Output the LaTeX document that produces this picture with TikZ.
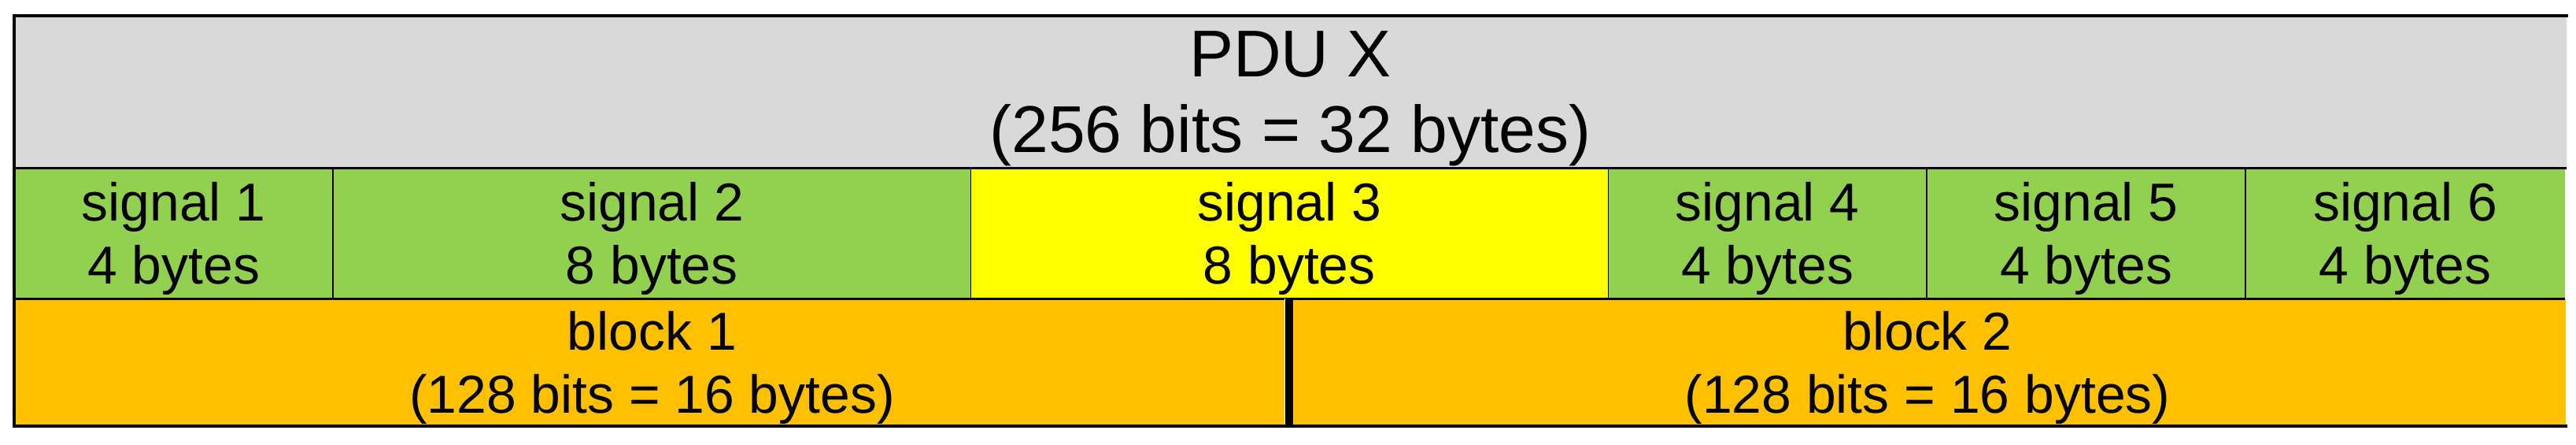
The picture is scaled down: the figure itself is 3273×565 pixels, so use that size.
\documentclass[tikz,border=0pt]{standalone}
\usepackage{fontspec}
\setmainfont{Liberation Sans}
\definecolor{pdugrey}{HTML}{D9D9D9}
\definecolor{siggreen}{HTML}{92D050}
\definecolor{sigyellow}{HTML}{FFFF00}
\definecolor{blockorange}{HTML}{FFC000}
\tikzset{
  cellbox/.style={inner sep=0pt, outer sep=0pt, draw=none, anchor=north west},
  celltext/.style={inner sep=0pt, align=center, font=\fontsize{19.3pt}{22.6pt}\selectfont},
  pdutext/.style={inner sep=0pt, align=center, font=\fontsize{23.9pt}{27.4pt}\selectfont},
  outerline/.style={line width=1.1pt, line cap=rect},
  rowline/.style={line width=0.85pt},
  divline/.style={line width=0.55pt},
  blockline/.style={line width=2.6pt},
}
\begin{document}
\begin{tikzpicture}[x=0.01cm,y=-0.01cm]
\useasboundingbox (0,0) rectangle (3273,565);
% cells
\node[cellbox, fill=pdugrey, minimum width=32.41cm, minimum height=1.93cm] (pdu) at (18,20) {};
\node[cellbox, fill=siggreen, minimum width=4.05cm, minimum height=1.66cm] (s1) at (18,213) {};
\node[cellbox, fill=siggreen, minimum width=8.10cm, minimum height=1.66cm] (s2) at (423,213) {};
\node[cellbox, fill=sigyellow, minimum width=8.10cm, minimum height=1.66cm] (s3) at (1233,213) {};
\node[cellbox, fill=siggreen, minimum width=4.05cm, minimum height=1.66cm] (s4) at (2043,213) {};
\node[cellbox, fill=siggreen, minimum width=4.05cm, minimum height=1.66cm] (s5) at (2448,213) {};
\node[cellbox, fill=siggreen, minimum width=4.06cm, minimum height=1.66cm] (s6) at (2853,213) {};
\node[cellbox, fill=blockorange, minimum width=16.20cm, minimum height=1.62cm] (b1) at (18,379) {};
\node[cellbox, fill=blockorange, minimum width=16.21cm, minimum height=1.62cm] (b2) at (1638,379) {};
% texts
\node[pdutext, yshift=-0.09cm] (pdut) at (pdu.center) {PDU X\\(256 bits = 32 bytes)};
\node[celltext, yshift=-0.07cm] (s1t) at (s1.center) {signal 1\\4 bytes};
\node[celltext, yshift=-0.07cm] (s2t) at (s2.center) {signal 2\\8 bytes};
\node[celltext, yshift=-0.07cm] (s3t) at (s3.center) {signal 3\\8 bytes};
\node[celltext, yshift=-0.07cm] (s4t) at (s4.center) {signal 4\\4 bytes};
\node[celltext, yshift=-0.07cm] (s5t) at (s5.center) {signal 5\\4 bytes};
\node[celltext, yshift=-0.07cm] (s6t) at (s6.center) {signal 6\\4 bytes};
\node[celltext, yshift=-0.07cm] (b1t) at (b1.center) {block 1\\(128 bits = 16 bytes)};
\node[celltext, yshift=-0.07cm] (b2t) at (b2.center) {block 2\\(128 bits = 16 bytes)};
% lines
\draw[divline] (s1.north east) -- (s1.south east);
\draw[divline] (s2.north east) -- (s2.south east);
\draw[divline] (s3.north east) -- (s3.south east);
\draw[divline] (s4.north east) -- (s4.south east);
\draw[divline] (s5.north east) -- (s5.south east);
\draw[rowline] (pdu.south west) -- (pdu.south east);
\draw[rowline] (s1.south west) -- (s6.south east);
\draw[white, line width=0.5pt] ([xshift=-0.055cm]b2.north west) -- ([xshift=-0.055cm]b2.south west);
\draw[blockline] (b2.north west) -- (b2.south west);
\draw[outerline] (pdu.north east) -- (pdu.north west) -- (b1.south west) -- (b2.south east);
\end{tikzpicture}
\end{document}
